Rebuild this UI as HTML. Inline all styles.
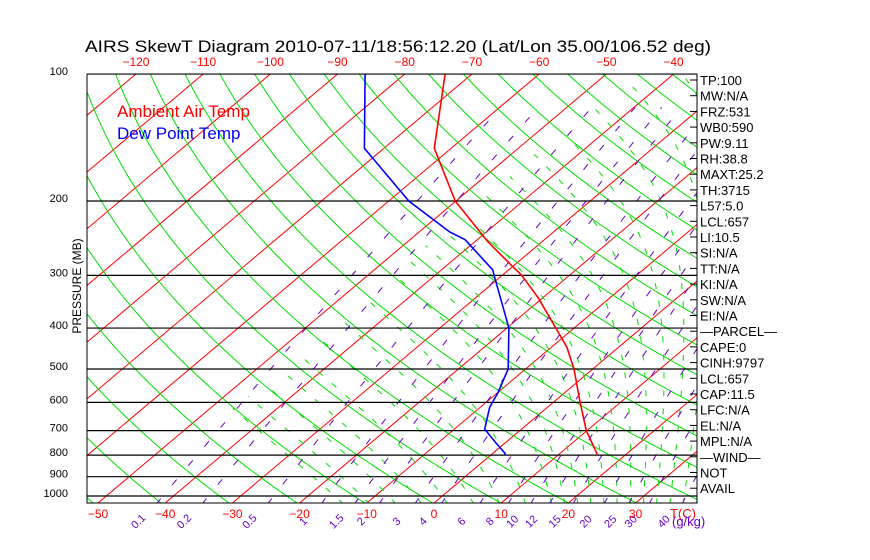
<!DOCTYPE html>
<html><head><meta charset="utf-8"><style>
html,body{margin:0;padding:0;background:#fff;}
svg{display:block;font-family:"Liberation Sans",sans-serif;}
</style></head><body>
<svg id="chart" width="870" height="560" viewBox="0 0 870 560" xmlns="http://www.w3.org/2000/svg">
<defs><clipPath id="plotclip"><rect x="87" y="74" width="610" height="429"/></clipPath></defs>
<rect x="0" y="0" width="870" height="560" fill="#fff"/>
<text x="85" y="52" font-size="17" textLength="626" lengthAdjust="spacingAndGlyphs">AIRS SkewT Diagram 2010-07-11/18:56:12.20 (Lat/Lon 35.00/106.52 deg)</text>
<g id="grid" clip-path="url(#plotclip)"></g>
<rect x="87" y="74" width="610" height="429" fill="none" stroke="#000" stroke-width="1"/>
<g id="labels"></g>
<text x="117" y="117" font-size="17" fill="#f00">Ambient Air Temp</text>
<text x="117" y="139" font-size="17" fill="#00f">Dew Point Temp</text>
<text transform="translate(81,286) rotate(-90)" text-anchor="middle" font-size="12">PRESSURE (MB)</text>
<text x="670" y="518" font-size="13" fill="#f00">T(C)</text>
<text x="672" y="526" font-size="13" fill="#60c">(g/kg)</text>
</svg>
<script>
var tempP = [100,150,200,250,285,300,339,400,444,500,600,700,800];
var tempT = [-74.0,-62.5,-50.1,-38.0,-30.2,-27.1,-20.7,-12.7,-7.7,-2.8,4.0,9.9,15.9];
var dewP = [100,150,200,237,247,291,303,372,400,500,570,616,694,751,792,800];
var dewT = [-85.9,-72.9,-57.0,-45.4,-41.8,-32.4,-30.8,-22.6,-19.7,-12.6,-9.9,-8.6,-5.5,-1.2,1.8,2.2];
var pressureTicks = [100,200,300,400,500,600,700,800,900,1000];
var isotherms = [-160,-150,-140,-130,-120,-110,-100,-90,-80,-70,-60,-50,-40,-30,-20,-10,0,10,20,30,40];
var topTempLabels = [-120,-110,-100,-90,-80,-70,-60,-50,-40];
var bottomTempLabels = [-50,-40,-30,-20,-10,0,10,20,30];
var thetas = [220,230,240,250,260,270,280,290,300,310,320,330,340,350,360,370,380,390,400,410,420,430,440,450,460,470];
var moistStarts = [-16,-12,-8,-4,0,4,8,12,16,18,20,22,24,26,28,30,32,34,36,38,40,42,44];
var mixRatios = [0.1,0.2,0.5,1,1.5,2,3,4,6,8,10,12,15,20,25,30,40];
var mixLabels = ["0.1","0.2","0.5","1","1.5","2","3","4","6","8","10","12","15","20","25","30","40"];
var statLines = ["TP:100","MW:N/A","FRZ:531","WB0:590","PW:9.11","RH:38.8","MAXT:25.2","TH:3715","L57:5.0","LCL:657","LI:10.5","SI:N/A","TT:N/A","KI:N/A","SW:N/A","EI:N/A","\u2014PARCEL\u2014","CAPE:0","CINH:9797","LCL:657","CAP:11.5","LFC:N/A","EL:N/A","MPL:N/A","\u2014WIND\u2014","NOT","AVAIL"];

var NS="http://www.w3.org/2000/svg";
var grid=document.getElementById('grid');
var labels=document.getElementById('labels');
function yP(p){return 74+422*Math.log10(p/100);}
function xT(T,p){var y=yP(p);return 98+(T+50)*6.72+(503-y)*1.185;}
function mk(tag,attrs,parent){var e=document.createElementNS(NS,tag);for(var k in attrs)e.setAttribute(k,attrs[k]);(parent||grid).appendChild(e);return e;}
function pathFrom(pts){return pts.map(function(q,i){return (i?'L':'M')+q[0].toFixed(1)+','+q[1].toFixed(1);}).join('');}
var pList=[];for(var p=1045;p>=95;p-=5)pList.push(p);

isotherms.forEach(function(T){
  var e=mk('line',{x1:xT(T,1045),y1:yP(1045),x2:xT(T,95),y2:yP(95),stroke:'#f00','stroke-width':1});
  
  
});
thetas.forEach(function(th){
  var pts=pList.map(function(p){return [xT(th*Math.pow(p/1000,0.286)-273.15,p),yP(p)];});
  var e=mk('path',{d:pathFrom(pts),fill:'none',stroke:'#0d0','stroke-width':1});
  
  
});
function es(Tc){return 6.112*Math.exp(17.67*Tc/(Tc+243.5));}
function dTdlnp(Tk,p){var Rd=287,cp=1005,Lv=2.5e6,eps=0.622;var e=es(Tk-273.15);var rs=eps*e/(p-e);return (Rd*Tk+Lv*rs)/(cp+Lv*Lv*rs*eps/(Rd*Tk*Tk));}
moistStarts.forEach(function(T0){
  var pts=[];var Tk=T0+273.15;var p=1000;
  var Td=Tk,pd=1000;while(pd<1045){var dl=Math.log((pd+5)/pd);Td+=dTdlnp(Td,pd)*dl;pd+=5;}
  pts.push([xT(Td-273.15,1045),yP(1045)]);
  pts.push([xT(Tk-273.15,1000),yP(1000)]);
  while(p>100){var np=p-5;var dl=Math.log(np/p);var k1=dTdlnp(Tk,p);var k2=dTdlnp(Tk+k1*dl,np);Tk+=0.5*(k1+k2)*dl;p=np;if(Tk-273.15<-47)break;pts.push([xT(Tk-273.15,p),yP(p)]);}
  var e=mk('path',{d:pathFrom(pts),fill:'none',stroke:'#0d0','stroke-width':1,'stroke-dasharray':'6,12'});
  
  
});
function tdFromW(w,p){var e=w*p/(622+w);var l=Math.log(e/6.112);return 243.5*l/(17.67-l);}
mixRatios.forEach(function(w,i){
  var pp=[];for(var p=1045;p>=100;p-=25)pp.push([xT(tdFromW(w,p),p),yP(p)]);
  var e=mk('path',{d:pathFrom(pp),fill:'none',stroke:'#60c','stroke-width':1,'stroke-dasharray':'7,18'});
  
  
  var lx=xT(tdFromW(w,1040),1040)-16;
  var t=mk('text',{x:0,y:0,'font-size':11,fill:'#60c','text-anchor':'middle',transform:'translate('+lx.toFixed(1)+',524) rotate(-45)'},labels);
  t.textContent=mixLabels[i];
  
  
});
pressureTicks.forEach(function(p){
  var e=mk('line',{x1:87,x2:697,y1:yP(p),y2:yP(p),stroke:'#000','stroke-width':1.2});
  
  
  var t=mk('text',{x:68,y:yP(p)+1,'font-size':11,'text-anchor':'end'},labels);
  t.textContent=String(p);
  
  
});
function profile(P,T,color,name){
  var pts=P.map(function(p,i){return [xT(T[i],p),yP(p)];});
  var e=mk('path',{d:pathFrom(pts),fill:'none',stroke:color,'stroke-width':1.6});
  
  
}
profile(tempP,tempT,'#f00','ambient-temp-line');
profile(dewP,dewT,'#00f','dewpoint-line');
topTempLabels.forEach(function(T){
  var t=mk('text',{x:xT(T,100),y:66,'font-size':12,fill:'#f00','text-anchor':'middle'},labels);
  t.textContent=String(T).replace('-','\u2212');
  
  
});
bottomTempLabels.forEach(function(T){
  var t=mk('text',{x:98+(T+50)*6.72,y:518,'font-size':12,fill:'#f00','text-anchor':'middle'},labels);
  t.textContent=String(T).replace('-','\u2212');
  
  
});
statLines.forEach(function(s,i){
  var t=mk('text',{x:700,y:85+i*15.7,'font-size':13},labels);
  t.textContent=s;
  
  
  var tk=mk('line',{x1:690,x2:697,y1:80+i*15.7,y2:80+i*15.7,stroke:'#000','stroke-width':1},labels);
  
  
});
</script>
</body></html>
